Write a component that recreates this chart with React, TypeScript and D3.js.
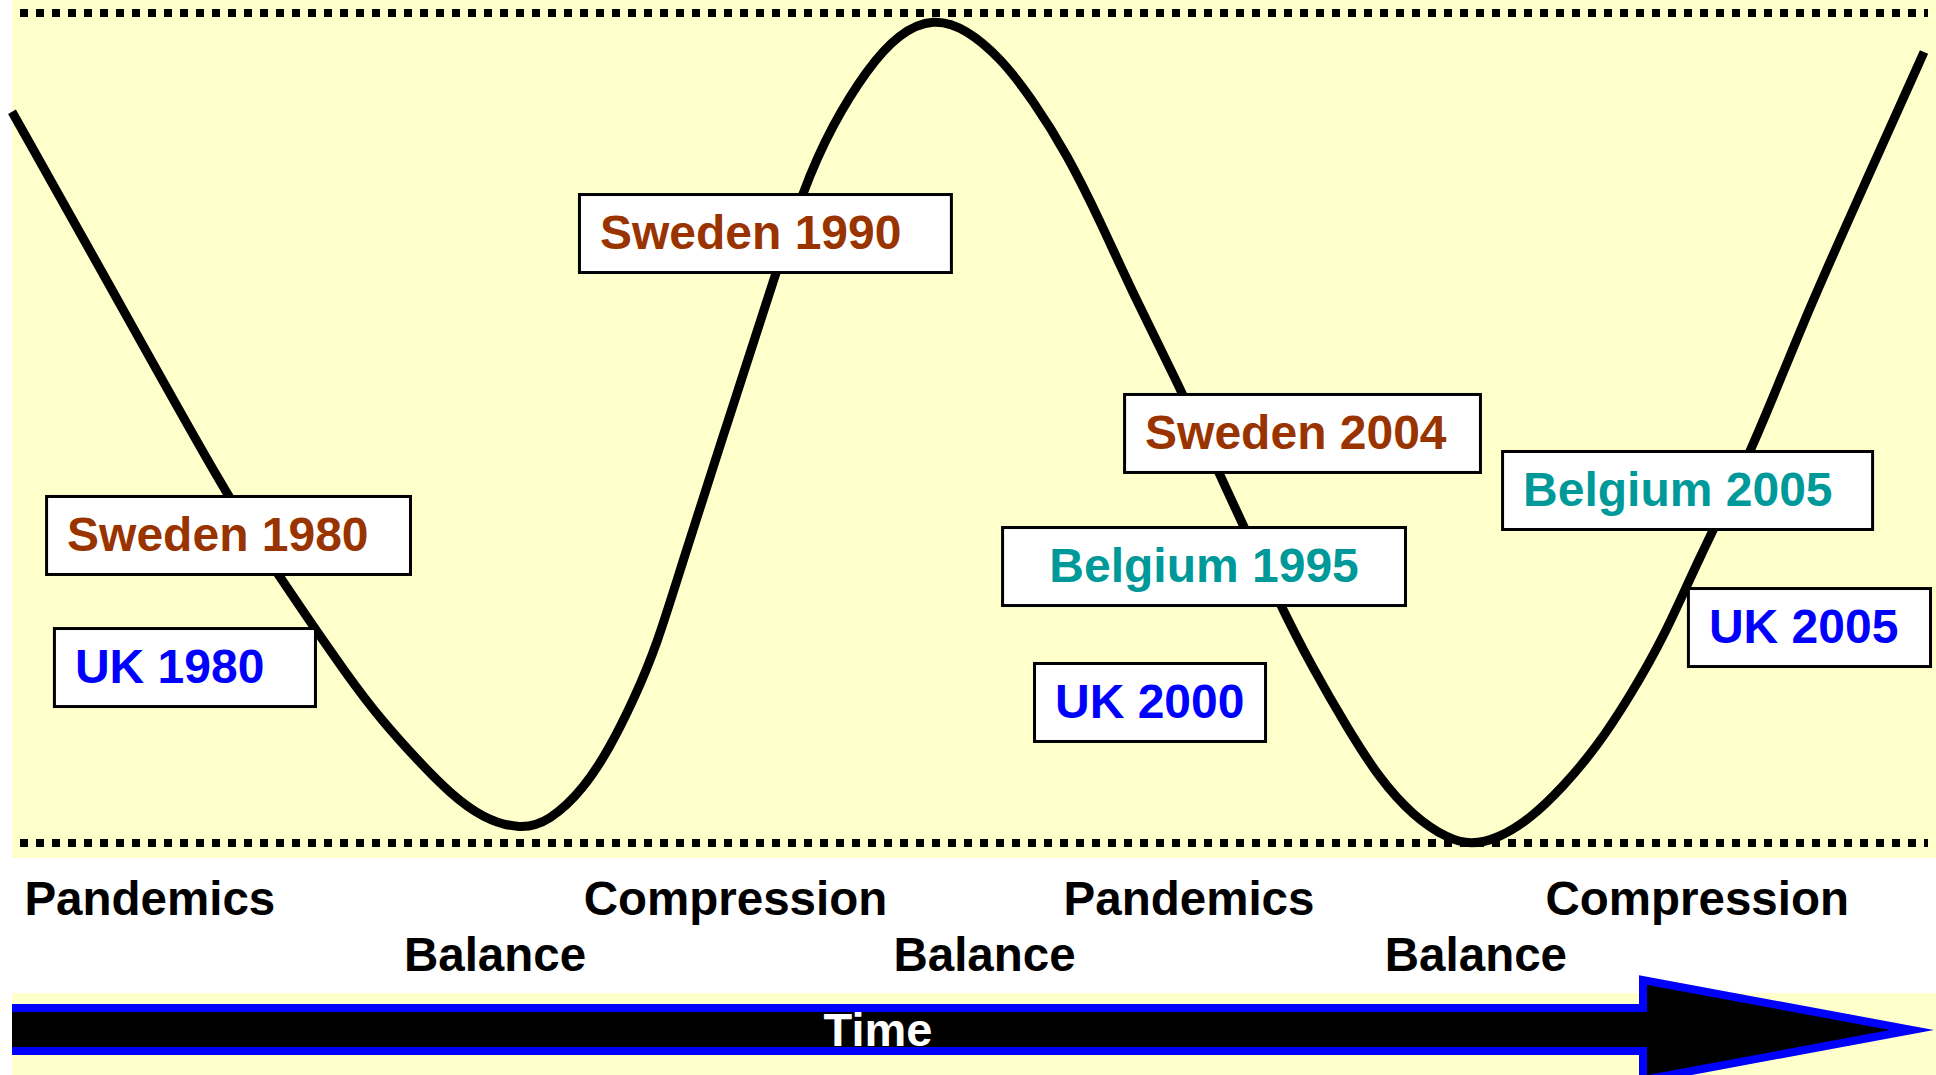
import React from "react";
import * as d3 from "d3";

// Curve: time (0-100) vs level (0 = lower dotted line, 100 = upper dotted line)
const CURVE_TIME = [0, 4.6, 11.2, 14.0, 17.7, 19.4, 21.2, 22.9, 24.6, 26.6, 28.1, 29.9, 31.3, 32.5, 33.7, 35.1, 37.3, 39.5, 41.4, 42.9, 44.7, 46.4, 48.2, 49.9, 51.7, 53.4, 55.2, 56.9, 58.6, 60.9, 63.2, 66.4, 68.0, 69.8, 71.5, 73.3, 75.1, 76.3, 77.7, 79.4, 81.1, 82.9, 84.6, 86.4, 88.1, 91.1, 93.7, 97.0, 100];
const CURVE_LEVEL = [88.1, 69.3, 41.9, 32.0, 19.6, 14.6, 10.0, 6.0, 3.0, 1.6, 2.6, 6.5, 11.6, 17.2, 23.6, 34.1, 49.8, 65.4, 79.0, 86.5, 93.2, 97.6, 99.4, 98.1, 94.6, 89.5, 82.9, 75.0, 66.3, 55.8, 44.2, 28.3, 21.2, 14.0, 7.8, 3.2, 0.5, -0.2, 0.5, 2.9, 6.7, 11.6, 17.6, 24.8, 33.7, 47.7, 63.0, 79.9, 95.3];

// Phase labels under the chart
const PHASE_NAMES = ["Pandemics", "Balance", "Compression", "Balance", "Pandemics", "Balance", "Compression"];
const PHASE_TIME = [0.65, 20.5, 29.9, 46.1, 55.0, 71.8, 80.2];
const PHASE_ROW = [0, 1, 0, 1, 0, 1, 0];

// Country annotations
const BOX_LABELS = ["Sweden 1980", "UK 1980", "Sweden 1990", "Sweden 2004", "Belgium 1995", "UK 2000", "Belgium 2005", "UK 2005"];
const BOX_COUNTRY = ["Sweden", "UK", "Sweden", "Sweden", "Belgium", "UK", "Belgium", "UK"];
const BOX_TIME = [1.73, 2.14, 29.6, 58.11, 51.73, 53.4, 77.88, 87.6];
const BOX_LEVEL = [41.93, 26.02, 78.31, 54.22, 38.19, 21.81, 47.35, 30.84];
const BOX_TIME_END = [20.92, 15.95, 49.21, 76.88, 72.96, 65.64, 97.39, 100.42];

const COUNTRY_COLORS: Record<string, string> = {
  Sweden: "#993300",
  UK: "#0000FF",
  Belgium: "#009999",
};

const W = 1936;
const H = 1075;
const FONT = "'Liberation Sans', Arial, sans-serif";

export default function App() {
  const x = d3.scaleLinear().domain([0, 100]).range([12, 1924]);
  const y = d3.scaleLinear().domain([0, 100]).range([843, 13]);

  const pts = CURVE_TIME.map((t, i) => [t, CURVE_LEVEL[i]] as [number, number]);
  const line = d3
    .line<[number, number]>()
    .x((d) => x(d[0]))
    .y((d) => y(d[1]))
    .curve(d3.curveBasis);

  const boxH = 81;
  const shaftTop = 1008;
  const shaftBot = 1051;
  const headX = 1643;
  const tipX = 1912;
  const midY = 1030;
  const fillPts = `12,${shaftTop} ${headX},${shaftTop} ${headX},980 ${tipX},${midY} ${headX},1080 ${headX},${shaftBot} 12,${shaftBot}`;
  const strokePath = `M12,${shaftTop} L${headX},${shaftTop} L${headX},980 L${tipX},${midY} L${headX},1080 L${headX},${shaftBot} L12,${shaftBot}`;

  return (
    <svg
      width={W}
      height={H}
      style={{ position: "absolute", left: 0, top: 0, display: "block", background: "#ffffff" }}
      fontFamily={FONT}
    >
      <rect x={12} y={0} width={W - 12} height={858} fill="#FFFFCC" />
      <rect x={12} y={993} width={W - 12} height={H - 993} fill="#FFFFCC" />

      {[100, 0].map((lv) => (
        <line
          key={lv}
          x1={x(0)}
          x2={1928}
          y1={y(lv)}
          y2={y(lv)}
          stroke="#000"
          strokeWidth={8}
          strokeDasharray="8 8"
          strokeDashoffset={8}
        />
      ))}

      <path d={line(pts) || ""} fill="none" stroke="#000" strokeWidth={9} />

      {BOX_LABELS.map((lab, i) => {
        const bx = x(BOX_TIME[i]);
        const by = y(BOX_LEVEL[i]);
        const bw = x(BOX_TIME_END[i]) - bx;
        const centered = lab === "Belgium 1995";
        return (
          <g key={lab}>
            <rect x={bx + 1.5} y={by + 1.5} width={bw - 3} height={boxH - 3} fill="#fff" stroke="#000" strokeWidth={3} />
            <text
              x={centered ? bx + bw / 2 : bx + 22}
              y={by + 56}
              textAnchor={centered ? "middle" : "start"}
              fontSize={48}
              fontWeight="bold"
              fill={COUNTRY_COLORS[BOX_COUNTRY[i]]}
            >
              {lab}
            </text>
          </g>
        );
      })}

      {PHASE_NAMES.map((name, i) => (
        <text
          key={i}
          x={x(PHASE_TIME[i])}
          y={PHASE_ROW[i] === 0 ? 915 : 971}
          fontSize={47.5}
          fontWeight="bold"
          fill="#000"
        >
          {name}
        </text>
      ))}

      <polygon points={fillPts} fill="#000" />
      <path d={strokePath} fill="none" stroke="#0000FF" strokeWidth={8} strokeLinejoin="miter" strokeMiterlimit={10} />
      <text x={878} y={1046} textAnchor="middle" fontSize={47} fontWeight="bold" fill="#fff">
        Time
      </text>
    </svg>
  );
}
